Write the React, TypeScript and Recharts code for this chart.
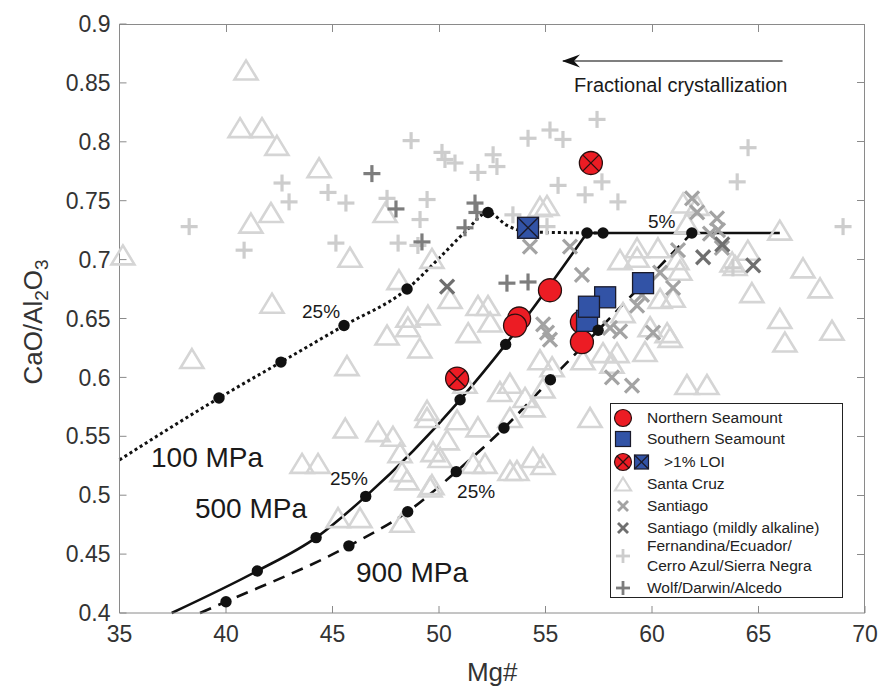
import React from "react";
import { ComposedChart, XAxis, YAxis, Scatter, Line, Legend } from "recharts";

const FONT = '"Liberation Sans", Arial, Helvetica, sans-serif';

const xTicks = [35, 40, 45, 50, 55, 60, 65, 70];
const yTicks = [0.4, 0.45, 0.5, 0.55, 0.6, 0.65, 0.7, 0.75, 0.8, 0.85, 0.9];
const X_MIN = 35;
const X_MAX = 70;
const Y_MIN = 0.4;
const Y_MAX = 0.9;

// Santa Cruz (light triangles)
const santaCruz: [number, number][] = [
  [40.94, 0.861], [40.66, 0.812], [41.69, 0.812], [42.39, 0.797], [44.37, 0.778],
  [42.11, 0.74], [41.17, 0.731], [35.16, 0.704], [45.82, 0.702], [42.16, 0.663],
  [47.47, 0.74], [49.67, 0.701], [48.12, 0.683], [50.52, 0.667], [49.48, 0.653],
  [51.83, 0.661], [52.3, 0.661], [54.74, 0.745], [48.54, 0.651], [38.4, 0.616],
  [45.68, 0.61], [47.56, 0.636], [48.54, 0.643], [49.1, 0.625], [51.37, 0.638],
  [52.4, 0.647], [45.6, 0.557], [47.14, 0.554], [47.84, 0.55], [49.44, 0.566],
  [49.44, 0.572], [49.72, 0.537], [50.38, 0.547], [50.05, 0.532], [51.83, 0.558],
  [52.16, 0.527], [50.85, 0.564], [43.57, 0.527], [44.32, 0.527], [48.26, 0.52],
  [49.67, 0.509], [45.26, 0.481], [46.29, 0.481], [48.26, 0.477], [54.74, 0.615],
  [55.31, 0.609], [53.33, 0.595], [52.86, 0.588], [54.04, 0.583], [54.41, 0.575],
  [54.88, 0.591], [53.33, 0.566], [51.6, 0.527], [53.33, 0.521], [53.66, 0.521],
  [54.41, 0.532], [54.88, 0.526], [57.09, 0.566], [56.76, 0.615], [48.5, 0.513],
  [49.58, 0.507], [48.17, 0.536], [51.22, 0.595], [62.12, 0.746], [61.64, 0.731],
  [58.5, 0.7], [59.3, 0.702], [59.3, 0.71], [60.28, 0.71], [61.17, 0.7],
  [61.31, 0.691], [63.9, 0.695], [58.64, 0.655], [60.38, 0.667], [60.99, 0.668],
  [60.71, 0.638], [59.91, 0.643], [58.36, 0.621], [55.07, 0.746], [66.0, 0.725],
  [64.5, 0.708], [63.76, 0.698], [64.69, 0.672], [67.09, 0.693], [67.89, 0.676],
  [66.0, 0.65], [66.24, 0.63], [68.45, 0.64], [61.46, 0.748], [59.67, 0.622],
  [58.12, 0.612], [60.85, 0.634], [61.64, 0.594], [62.58, 0.594], [57.7, 0.621],
];

// Santiago (light x)
const santiago: [number, number][] = [
  [61.88, 0.752], [62.12, 0.74], [63.05, 0.735], [63.1, 0.725], [63.28, 0.71],
  [61.22, 0.708], [56.15, 0.711], [56.71, 0.687], [60.38, 0.689], [60.99, 0.676],
  [59.3, 0.661], [59.53, 0.67], [58.03, 0.642], [58.5, 0.639], [60.05, 0.638],
  [54.27, 0.711], [58.12, 0.6], [59.06, 0.593], [54.89, 0.645], [55.07, 0.638],
  [55.21, 0.632], [62.72, 0.722],
];

// Santiago (mildly alkaline) (dark x)
const santiagoAlk: [number, number][] = [
  [50.38, 0.677], [64.75, 0.695], [62.4, 0.702], [63.3, 0.713],
];

// Fernandina/Ecuador/Cerro Azul/Sierra Negra (light +)
const fernandina: [number, number][] = [
  [38.27, 0.728], [40.85, 0.708], [42.63, 0.765], [42.96, 0.749], [44.79, 0.757],
  [45.63, 0.748], [45.16, 0.714], [48.69, 0.801], [50.14, 0.791], [50.28, 0.785],
  [50.75, 0.782], [51.83, 0.774], [52.54, 0.789], [52.72, 0.779], [47.56, 0.752],
  [49.44, 0.751], [49.11, 0.734], [48.08, 0.714], [49.01, 0.712], [54.18, 0.803],
  [55.21, 0.81], [57.42, 0.819], [55.82, 0.802], [55.59, 0.763], [57.65, 0.766],
  [56.86, 0.755], [58.4, 0.749], [55.07, 0.728], [53.47, 0.738], [64.51, 0.795],
  [64.0, 0.766], [68.97, 0.728], [63.8, 0.693],
];

// Wolf/Darwin/Alcedo (dark +)
const wolf: [number, number][] = [
  [46.85, 0.773], [47.98, 0.743], [49.2, 0.715], [51.69, 0.748], [51.78, 0.74],
  [51.22, 0.727], [53.19, 0.68], [54.18, 0.681],
];

const northern: [number, number][] = [
  [55.21, 0.674], [53.76, 0.65], [53.57, 0.644], [56.71, 0.647], [56.71, 0.63],
];
const southern: [number, number][] = [
  [59.58, 0.68], [57.8, 0.668], [56.95, 0.648], [57.04, 0.66],
];
const northernLOI: [number, number][] = [[57.13, 0.782], [50.85, 0.599]];
const southernLOI: [number, number][] = [[54.18, 0.727]];

// Model curves: [Mg#, CaO/Al2O3, marked step (1) or not (0)]
const line100: [number, number, number][] = [
  [35, 0.53, 0], [39.67, 0.5825, 1], [42.58, 0.613, 1], [45.54, 0.644, 1], [48.5, 0.675, 1],
  [50.05, 0.702, 0], [51.22, 0.7234, 0], [52.3, 0.74, 1], [53.2, 0.729, 0], [54.2, 0.7235, 0],
  [57.7, 0.7226, 1],
];
const line500: [number, number, number][] = [
  [37.45, 0.4, 0], [41.47, 0.4357, 1], [44.23, 0.464, 1], [46.56, 0.499, 1], [50.99, 0.581, 1],
  [53.13, 0.628, 1], [56.95, 0.7226, 1],
];
const plateau: [number, number, number][] = [[56.95, 0.7226, 0], [66.0, 0.7226, 0]];
const line900: [number, number, number][] = [
  [38.78, 0.4, 0], [40.0, 0.4096, 1], [45.77, 0.457, 1], [48.53, 0.486, 1], [50.81, 0.52, 1],
  [53.05, 0.557, 1], [55.23, 0.598, 1], [57.47, 0.64, 1], [61.87, 0.7226, 1],
];
const arrowLine: [number, number, number][] = [[55.82, 0.8686, 1], [66.13, 0.8686, 0]];

const annotations = [
  { x: 36.48, y: 0.524, t: "100 MPa", fs: 28 },
  { x: 38.54, y: 0.4806, t: "500 MPa", fs: 28 },
  { x: 46.1, y: 0.4263, t: "900 MPa", fs: 28 },
  { x: 43.57, y: 0.6504, t: "25%", fs: 19 },
  { x: 44.88, y: 0.5087, t: "25%", fs: 19 },
  { x: 50.85, y: 0.4976, t: "25%", fs: 19 },
  { x: 59.81, y: 0.7268, t: "5%", fs: 19 },
  { x: 56.34, y: 0.8423, t: "Fractional crystallization", fs: 20 },
];

const legendItems = [
  { kind: "north", label: "Northern Seamount" },
  { kind: "south", label: "Southern Seamount" },
  { kind: "loi", label: ">1% LOI" },
  { kind: "tri", label: "Santa Cruz" },
  { kind: "xl", label: "Santiago" },
  { kind: "xd", label: "Santiago (mildly alkaline)" },
  { kind: "pl", label: "Fernandina/Ecuador/\nCerro Azul/Sierra Negra" },
  { kind: "pd", label: "Wolf/Darwin/Alcedo" },
];

const pts = (a: [number, number][]) => a.map(([x, y]) => ({ x, y }));
const cpts = (a: [number, number, number][]) => a.map(([x, y, m]) => ({ x, y, m }));

// layout
const CHART_W = 879;
const CHART_H = 688;
const MARGIN = { top: 24, right: 14, bottom: 35, left: 59.5 };
const Y_AXIS_W = 60;
const X_AXIS_H = 40;
const PLOT_LEFT = MARGIN.left + Y_AXIS_W;
const PLOT_TOP = MARGIN.top;
const PLOT_RIGHT = CHART_W - MARGIN.right;
const PLOT_BOTTOM = CHART_H - MARGIN.bottom - X_AXIS_H;
const TICK_LEN = 7;

const AXIS = "#8a8a8a";
const C_TRI = "#d5d5d5";
const C_XL = "#a3a3a3";
const C_XD = "#6f6f6f";
const C_PL = "#cdcdcd";
const C_PD = "#7d7d7d";
const C_RED = "#ec1c24";
const C_BLUE = "#3253a6";
const C_EDGE = "#2a1010";

const triPath = (cx: number, cy: number, w: number, h: number) =>
  `M${cx},${cy - h / 2} L${cx + w / 2},${cy + h / 2} L${cx - w / 2},${cy + h / 2} Z`;

const TriShape = (p: any) => (
  <path d={triPath(p.cx, p.cy, 23, 19)} fill="none" stroke={C_TRI} strokeWidth={2.6} />
);
const crossShape = (color: string) => (p: any) => {
  const s = 7;
  return (
    <g stroke={color} strokeWidth={3.2}>
      <line x1={p.cx - s} y1={p.cy - s} x2={p.cx + s} y2={p.cy + s} />
      <line x1={p.cx - s} y1={p.cy + s} x2={p.cx + s} y2={p.cy - s} />
    </g>
  );
};
const plusShape = (color: string) => (p: any) => {
  const s = 8.5;
  return (
    <g stroke={color} strokeWidth={3.2}>
      <line x1={p.cx - s} y1={p.cy} x2={p.cx + s} y2={p.cy} />
      <line x1={p.cx} y1={p.cy - s} x2={p.cx} y2={p.cy + s} />
    </g>
  );
};
const CircleShape = (p: any) => (
  <circle cx={p.cx} cy={p.cy} r={11.5} fill={C_RED} stroke={C_EDGE} strokeWidth={1.3} />
);
const CircleLOIShape = (p: any) => {
  const r = 11.5;
  const d = r * 0.707;
  return (
    <g>
      <circle cx={p.cx} cy={p.cy} r={r} fill={C_RED} stroke={C_EDGE} strokeWidth={1.3} />
      <line x1={p.cx - d} y1={p.cy - d} x2={p.cx + d} y2={p.cy + d} stroke={C_EDGE} strokeWidth={1.3} />
      <line x1={p.cx - d} y1={p.cy + d} x2={p.cx + d} y2={p.cy - d} stroke={C_EDGE} strokeWidth={1.3} />
    </g>
  );
};
const SquareShape = (p: any) => (
  <rect x={p.cx - 10.5} y={p.cy - 10.5} width={21} height={21} fill={C_BLUE} stroke="#1a1a2a" strokeWidth={1.3} />
);
const SquareLOIShape = (p: any) => {
  const h = 10.5;
  return (
    <g>
      <rect x={p.cx - h} y={p.cy - h} width={2 * h} height={2 * h} fill={C_BLUE} stroke="#1a1a2a" strokeWidth={1.3} />
      <line x1={p.cx - h} y1={p.cy - h} x2={p.cx + h} y2={p.cy + h} stroke="#1a1a2a" strokeWidth={1.3} />
      <line x1={p.cx - h} y1={p.cy + h} x2={p.cx + h} y2={p.cy - h} stroke="#1a1a2a" strokeWidth={1.3} />
    </g>
  );
};
const TextShape = (p: any) => (
  <text x={p.cx} y={p.cy} fontSize={p.payload.fs} fill="#1a1a1a" fontFamily={FONT}>
    {p.payload.t}
  </text>
);

const curveDot = (p: any) => {
  const { cx, cy, payload, index } = p;
  if (!payload || !payload.m) return <g key={`d${index}`} />;
  return <circle key={`d${index}`} cx={cx} cy={cy} r={5.7} fill="#111" />;
};
const arrowDot = (p: any) => {
  const { cx, cy, payload, index } = p;
  if (!payload || !payload.m) return <g key={`a${index}`} />;
  return (
    <path
      key={`a${index}`}
      d={`M${cx - 1},${cy} L${cx + 17},${cy - 6.5} L${cx + 11},${cy} L${cx + 17},${cy + 6.5} Z`}
      fill="#111"
    />
  );
};

const YLabel = () => (
  <text transform="translate(42,322) rotate(-90)" textAnchor="middle" fontSize={26} fill="#333" fontFamily={FONT}>
    CaO/Al
    <tspan fontSize={19} dy={6}>2</tspan>
    <tspan dy={-6}>O</tspan>
    <tspan fontSize={19} dy={6}>3</tspan>
  </text>
);
const XLabel = () => (
  <text x={(PLOT_LEFT + PLOT_RIGHT) / 2} y={681} textAnchor="middle" fontSize={26} fill="#333" fontFamily={FONT}>
    Mg#
  </text>
);

// top and right edges of the axis box, with inward ticks (MATLAB-style frame)
const FrameBox = () => {
  const w = PLOT_RIGHT - PLOT_LEFT;
  const h = PLOT_BOTTOM - PLOT_TOP;
  return (
    <div
      style={{
        position: "absolute",
        left: PLOT_LEFT,
        top: PLOT_TOP,
        width: w,
        height: h,
        boxSizing: "border-box",
        borderTop: `1px solid ${AXIS}`,
        borderRight: `1px solid ${AXIS}`,
        pointerEvents: "none",
        zIndex: 5,
      }}
    >
      {xTicks.slice(1, -1).map((t) => (
        <div
          key={`tx${t}`}
          style={{
            position: "absolute",
            left: ((t - X_MIN) / (X_MAX - X_MIN)) * w - 0.5,
            top: 0,
            width: 1,
            height: TICK_LEN,
            background: AXIS,
          }}
        />
      ))}
      {yTicks.slice(1, -1).map((t) => (
        <div
          key={`ty${t}`}
          style={{
            position: "absolute",
            right: 0,
            top: ((Y_MAX - t) / (Y_MAX - Y_MIN)) * h - 1.5,
            width: TICK_LEN,
            height: 1,
            background: AXIS,
          }}
        />
      ))}
    </div>
  );
};

const LegendIcon = ({ kind }: { kind: string }) => {
  const cx = 12;
  const cy = 11;
  switch (kind) {
    case "north":
      return <circle cx={cx} cy={cy} r={8.5} fill={C_RED} stroke={C_EDGE} strokeWidth={1.2} />;
    case "south":
      return <rect x={cx - 7.5} y={cy - 7.5} width={15} height={15} fill={C_BLUE} stroke="#1a1a2a" strokeWidth={1.2} />;
    case "tri":
      return <path d={triPath(cx, cy, 16, 13)} fill="none" stroke={C_TRI} strokeWidth={2.2} />;
    case "xl":
    case "xd": {
      const c = kind === "xl" ? C_XL : C_XD;
      const s = 5;
      return (
        <g stroke={c} strokeWidth={2.8}>
          <line x1={cx - s} y1={cy - s} x2={cx + s} y2={cy + s} />
          <line x1={cx - s} y1={cy + s} x2={cx + s} y2={cy - s} />
        </g>
      );
    }
    case "pl":
    case "pd": {
      const c = kind === "pl" ? C_PL : C_PD;
      const s = 7;
      return (
        <g stroke={c} strokeWidth={2.8}>
          <line x1={cx - s} y1={cy} x2={cx + s} y2={cy} />
          <line x1={cx} y1={cy - s} x2={cx} y2={cy + s} />
        </g>
      );
    }
    default:
      return null;
  }
};

const rowCenters = [13.7, 35.3, 57.7, 80.3, 102, 124.3, 152, 184.3];

const LegendBox = () => (
  <div
    style={{
      position: "relative",
      width: 233,
      height: 195,
      boxSizing: "border-box",
      border: "1.6px solid #222",
      background: "#fff",
      fontFamily: FONT,
      fontSize: 15.5,
      color: "#222",
    }}
  >
    {legendItems.map((it, i) => {
      const c = rowCenters[i];
      if (it.kind === "loi") {
        return (
          <div key={i} style={{ position: "absolute", left: 0, top: c - 11, height: 22, width: 230 }}>
            <svg width={50} height={22} style={{ position: "absolute", left: 0, top: 0 }}>
              <circle cx={12} cy={11} r={8.5} fill={C_RED} stroke={C_EDGE} strokeWidth={1.2} />
              <line x1={6} y1={5} x2={18} y2={17} stroke={C_EDGE} strokeWidth={1.2} />
              <line x1={6} y1={17} x2={18} y2={5} stroke={C_EDGE} strokeWidth={1.2} />
              <rect x={23.5} y={4} width={14} height={14} fill={C_BLUE} stroke="#1a1a2a" strokeWidth={1.2} />
              <line x1={23.5} y1={4} x2={37.5} y2={18} stroke="#1a1a2a" strokeWidth={1.2} />
              <line x1={23.5} y1={18} x2={37.5} y2={4} stroke="#1a1a2a" strokeWidth={1.2} />
            </svg>
            <span style={{ position: "absolute", left: 53, top: 0, lineHeight: "22px", whiteSpace: "nowrap" }}>
              {it.label}
            </span>
          </div>
        );
      }
      const lines = it.label.split("\n");
      const lh = lines.length > 1 ? 20 : 22;
      const h = lh * lines.length;
      return (
        <div key={i} style={{ position: "absolute", left: 0, top: c - h / 2, height: h, width: 230 }}>
          <svg width={24} height={22} style={{ position: "absolute", left: 0, top: h / 2 - 11 }}>
            <LegendIcon kind={it.kind} />
          </svg>
          <div style={{ position: "absolute", left: 36, top: 0, lineHeight: `${lh}px`, whiteSpace: "nowrap" }}>
            {lines.map((l, j) => (
              <div key={j}>{l}</div>
            ))}
          </div>
        </div>
      );
    })}
  </div>
);

const tickStyle = { fontSize: 23, fill: "#333", fontFamily: FONT };

export default function App() {
  return (
    <div style={{ position: "absolute", left: 0, top: 0, width: CHART_W, height: CHART_H, background: "#fff" }}>
      <ComposedChart width={CHART_W} height={CHART_H} margin={MARGIN}>
        <XAxis
          dataKey="x"
          type="number"
          domain={[X_MIN, X_MAX]}
          ticks={xTicks}
          height={X_AXIS_H}
          stroke={AXIS}
          tickSize={-TICK_LEN}
          tickMargin={20}
          tick={tickStyle}
          label={<XLabel />}
        />
        <YAxis
          dataKey="y"
          type="number"
          domain={[Y_MIN, Y_MAX]}
          ticks={yTicks}
          width={Y_AXIS_W}
          stroke={AXIS}
          tickSize={-TICK_LEN}
          tickMargin={16}
          tick={tickStyle}
          tickFormatter={(v: number) => String(v)}
          label={<YLabel />}
        />

        <Scatter name="Santa Cruz" data={pts(santaCruz)} shape={TriShape} isAnimationActive={false} />
        <Scatter name="Fernandina" data={pts(fernandina)} shape={plusShape(C_PL)} isAnimationActive={false} />
        <Scatter name="Santiago" data={pts(santiago)} shape={crossShape(C_XL)} isAnimationActive={false} />
        <Scatter name="Wolf" data={pts(wolf)} shape={plusShape(C_PD)} isAnimationActive={false} />
        <Scatter name="Santiago alk" data={pts(santiagoAlk)} shape={crossShape(C_XD)} isAnimationActive={false} />

        <Line data={cpts(line100)} dataKey="y" type="monotone" stroke="#111" strokeWidth={3} strokeDasharray="3 3" dot={curveDot} activeDot={false} isAnimationActive={false} />
        <Line data={cpts(plateau)} dataKey="y" type="linear" stroke="#111" strokeWidth={2.6} dot={false} activeDot={false} isAnimationActive={false} />
        <Line data={cpts(line500)} dataKey="y" type="monotone" stroke="#111" strokeWidth={2.6} dot={curveDot} activeDot={false} isAnimationActive={false} />
        <Line data={cpts(line900)} dataKey="y" type="monotone" stroke="#111" strokeWidth={2.6} strokeDasharray="12 8" dot={curveDot} activeDot={false} isAnimationActive={false} />
        <Line data={cpts(arrowLine)} dataKey="y" type="linear" stroke="#555" strokeWidth={1.5} dot={arrowDot} activeDot={false} isAnimationActive={false} />

        <Scatter name="Northern Seamount" data={pts(northern)} shape={CircleShape} isAnimationActive={false} />
        <Scatter name="Northern LOI" data={pts(northernLOI)} shape={CircleLOIShape} isAnimationActive={false} />
        <Scatter name="Southern Seamount" data={pts(southern)} shape={SquareShape} isAnimationActive={false} />
        <Scatter name="Southern LOI" data={pts(southernLOI)} shape={SquareLOIShape} isAnimationActive={false} />

        <Scatter name="labels" data={annotations} shape={TextShape} isAnimationActive={false} />

        <Legend
          layout="vertical"
          align="center"
          verticalAlign="middle"
          content={<LegendBox />}
          wrapperStyle={{ left: 610, top: 403, width: 233, height: 195 }}
        />
      </ComposedChart>
      <FrameBox />
    </div>
  );
}
